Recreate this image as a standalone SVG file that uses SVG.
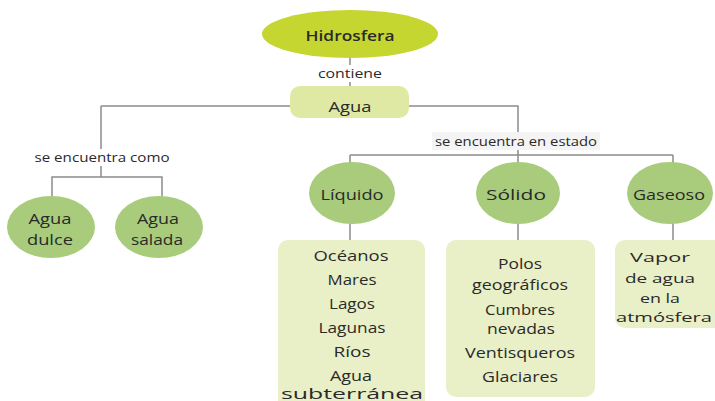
<svg xmlns="http://www.w3.org/2000/svg" width="715" height="401" viewBox="0 0 715 401">
<style>
text{font-family:"Open Sans","Liberation Sans",sans-serif;fill:#2a2a2a;text-anchor:middle;dominant-baseline:central;font-size:14px}
.lbl{font-size:12.5px}
.hd{font-weight:600;font-size:15px}
.sm{font-size:13.5px}
.ell{fill:#a8cc7c}
.box{fill:#e9efc6}
.line{stroke:#8c8c8c;stroke-width:1.5;fill:none}
</style>
<rect width="715" height="401" fill="#ffffff"/>
<g id="connectors">
<path class="line" d="M350 57V86M101 106H290M409 106H518V155M350 155H673M101 106V177M52 197V177H162V197M350 155V163M518 155V163M673 155V163M350 223V240M518 223V240M673 223V240"/>
<rect x="314" y="65" width="72" height="17" fill="#ffffff"/>
<text class="lbl" x="350" y="73" textLength="64" lengthAdjust="spacingAndGlyphs">contiene</text>
<rect x="33" y="149" width="140" height="17" fill="#ffffff"/>
<text class="lbl" x="102" y="157" textLength="135" lengthAdjust="spacingAndGlyphs">se encuentra como</text>
<rect x="432" y="132" width="168" height="18" fill="#f4f4f4"/>
<text class="lbl" x="516" y="141" textLength="162" lengthAdjust="spacingAndGlyphs">se encuentra en estado</text>
</g>
<g id="hidrosfera">
<ellipse cx="350" cy="34" rx="88" ry="24" fill="#c6d630"/>
<text class="hd" x="350" y="35" textLength="89" lengthAdjust="spacingAndGlyphs">Hidrosfera</text>
</g>
<g id="agua">
<rect x="290" y="86" width="119" height="32" rx="10" fill="#dfe9a4"/>
<text x="350" y="106" textLength="43" lengthAdjust="spacingAndGlyphs">Agua</text>
</g>
<g id="agua-dulce">
<ellipse class="ell" cx="51" cy="227" rx="44" ry="31"/>
<text x="50" y="218" textLength="43" lengthAdjust="spacingAndGlyphs">Agua</text>
<text x="50" y="239" textLength="46" lengthAdjust="spacingAndGlyphs">dulce</text>
</g>
<g id="agua-salada">
<ellipse class="ell" cx="159" cy="227" rx="44" ry="31"/>
<text x="158" y="218" textLength="42" lengthAdjust="spacingAndGlyphs">Agua</text>
<text x="157" y="239" textLength="52" lengthAdjust="spacingAndGlyphs">salada</text>
</g>
<g id="liquido">
<ellipse class="ell" cx="352" cy="193" rx="43" ry="31"/>
<text x="352" y="194" textLength="63" lengthAdjust="spacingAndGlyphs">Líquido</text>
</g>
<g id="solido">
<ellipse class="ell" cx="518" cy="193" rx="42" ry="31"/>
<text x="516" y="194" textLength="60" lengthAdjust="spacingAndGlyphs">Sólido</text>
</g>
<g id="gaseoso">
<ellipse class="ell" cx="670" cy="193" rx="43" ry="31"/>
<text x="669" y="194" textLength="72" lengthAdjust="spacingAndGlyphs">Gaseoso</text>
</g>
<g id="liquido-lista">
<rect class="box" x="278" y="240" width="147" height="175" rx="10"/>
<text x="351" y="255" textLength="75" lengthAdjust="spacingAndGlyphs">Océanos</text>
<text x="352" y="279" textLength="49" lengthAdjust="spacingAndGlyphs">Mares</text>
<text x="352" y="303" textLength="46" lengthAdjust="spacingAndGlyphs">Lagos</text>
<text x="352" y="327" textLength="67" lengthAdjust="spacingAndGlyphs">Lagunas</text>
<text x="352" y="351" textLength="37" lengthAdjust="spacingAndGlyphs">Ríos</text>
<text x="351" y="375" textLength="42" lengthAdjust="spacingAndGlyphs">Agua</text>
<text x="352" y="393" textLength="142" lengthAdjust="spacingAndGlyphs">subterránea</text>
</g>
<g id="solido-lista">
<rect class="box" x="446" y="240" width="149" height="157" rx="10"/>
<text x="520" y="263" textLength="44" lengthAdjust="spacingAndGlyphs">Polos</text>
<text x="520" y="284" textLength="96" lengthAdjust="spacingAndGlyphs">geográficos</text>
<text x="520" y="309" textLength="70" lengthAdjust="spacingAndGlyphs">Cumbres</text>
<text x="521" y="328" textLength="68" lengthAdjust="spacingAndGlyphs">nevadas</text>
<text x="520" y="352" textLength="110" lengthAdjust="spacingAndGlyphs">Ventisqueros</text>
<text x="520" y="376" textLength="76" lengthAdjust="spacingAndGlyphs">Glaciares</text>
</g>
<g id="gaseoso-lista">
<rect class="box" x="615" y="240" width="110" height="88" rx="10"/>
<text class="sm" x="660" y="257" textLength="60" lengthAdjust="spacingAndGlyphs">Vapor</text>
<text class="sm" x="660" y="278" textLength="70" lengthAdjust="spacingAndGlyphs">de agua</text>
<text class="sm" x="660" y="298" textLength="40" lengthAdjust="spacingAndGlyphs">en la</text>
<text class="sm" x="664" y="317" textLength="96" lengthAdjust="spacingAndGlyphs">atmósfera</text>
</g>
</svg>
